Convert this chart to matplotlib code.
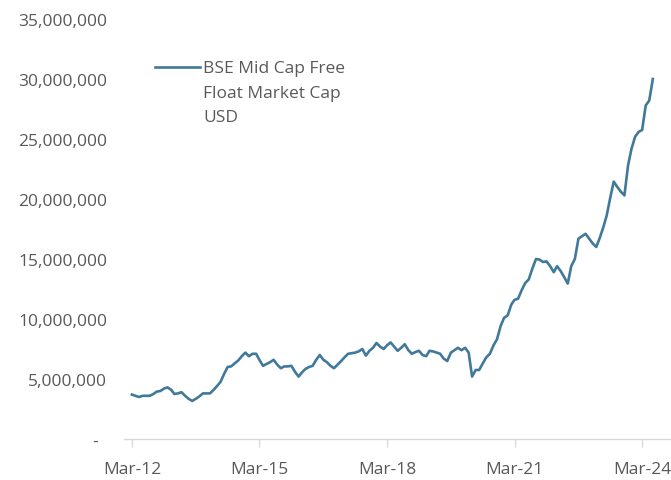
import numpy as np
import pandas as pd
import matplotlib
matplotlib.use("Agg")
import matplotlib.pyplot as plt
import matplotlib.dates as mdates
from matplotlib.lines import Line2D
from matplotlib.ticker import FuncFormatter

# monthly free-float market cap, USD millions, Mar-2012 .. Jun-2024
mcap_musd = [
    3.70, 3.60, 3.50, 3.60, 3.60, 3.60, 3.75, 3.95, 4.00, 4.20, 4.30, 4.10,
    3.75, 3.80, 3.90, 3.60, 3.35, 3.17, 3.35, 3.55, 3.80, 3.80, 3.80, 4.10,
    4.40, 4.75, 5.40, 6.00, 6.05, 6.30, 6.55, 6.90, 7.20, 6.90, 7.10, 7.10,
    6.60, 6.10, 6.25, 6.40, 6.60, 6.20, 5.90, 6.05, 6.05, 6.10, 5.60, 5.20,
    5.55, 5.85, 6.00, 6.10, 6.60, 7.00, 6.60, 6.40, 6.10, 5.90, 6.20, 6.50,
    6.80, 7.10, 7.15, 7.20, 7.30, 7.50, 6.95, 7.35, 7.60, 8.00, 7.70, 7.50,
    7.80, 8.05, 7.70, 7.35, 7.60, 7.90, 7.40, 7.10, 7.25, 7.35, 7.00, 6.90,
    7.35, 7.30, 7.20, 7.10, 6.70, 6.50, 7.20, 7.40, 7.60, 7.40, 7.60, 7.20,
    5.20, 5.75, 5.75, 6.30, 6.80, 7.10, 7.80, 8.30, 9.40, 10.10, 10.30, 11.20,
    11.60, 11.70, 12.40, 13.00, 13.30, 14.20, 15.00, 14.95, 14.75, 14.80, 14.40, 13.90,
    14.40, 14.00, 13.50, 12.95, 14.40, 15.00, 16.70, 16.90, 17.10, 16.70, 16.30, 16.00,
    16.70, 17.60, 18.60, 20.10, 21.45, 21.00, 20.60, 20.30, 22.80, 24.20, 25.20, 25.60,
    25.75, 27.80, 28.20, 30.00,
]
months = pd.date_range("2012-03-01", periods=len(mcap_musd), freq="MS")
mcap = np.array(mcap_musd) * 1e6

tick_dates = pd.to_datetime(["2012-03-01", "2015-03-01", "2018-03-01",
                             "2021-03-01", "2024-03-01"])
series_label = "BSE Mid Cap Free\nFloat Market Cap\nUSD"

LINE = "#41799b"
TXT = "#595959"
AXIS = "#d9d9d9"
FONT = "Open Sans"
FS = 12.5

fig = plt.figure(figsize=(6.71, 4.81), dpi=100)
ax = fig.add_axes([124 / 671, 41 / 481, 547 / 671, 420 / 481])

ax.plot(months, mcap, color=LINE, lw=1.9, solid_joinstyle="round")

ax.set_ylim(0, 35e6)
ax.set_yticks(np.arange(0, 35e6 + 1, 5e6))
ax.yaxis.set_major_formatter(
    FuncFormatter(lambda v, _: "-  " if v == 0 else f"{v:,.0f}"))

# date axis, right edge runs off the canvas past Mar-24
ax.set_xlim(mdates.date2num(pd.Timestamp("2011-12-24")),
            mdates.date2num(pd.Timestamp("2024-11-04")))
ax.set_xticks(tick_dates)
ax.xaxis.set_major_formatter(mdates.DateFormatter("%b-%y"))

for side in ("top", "right", "left"):
    ax.spines[side].set_visible(False)
ax.spines["bottom"].set_color(AXIS)
ax.spines["bottom"].set_linewidth(1.0)
ax.tick_params(axis="x", length=6, width=1.0, color=AXIS, pad=10,
               labelsize=FS, labelcolor=TXT)
ax.tick_params(axis="y", length=0, pad=12, labelsize=FS, labelcolor=TXT)
for lbl in ax.get_xticklabels() + ax.get_yticklabels():
    lbl.set_family(FONT)

# legend swatch and wrapped label, top-left inside the plot
fig.add_artist(Line2D([155 / 671, 200 / 671], [1 - 68 / 481, 1 - 68 / 481],
                      color=LINE, lw=1.9))
fig.text(203 / 671, 1 - 61 / 481, series_label, ha="left", va="top",
         fontsize=FS, color=TXT, family=FONT, linespacing=1.72)

fig.savefig("out.png", dpi=100)
